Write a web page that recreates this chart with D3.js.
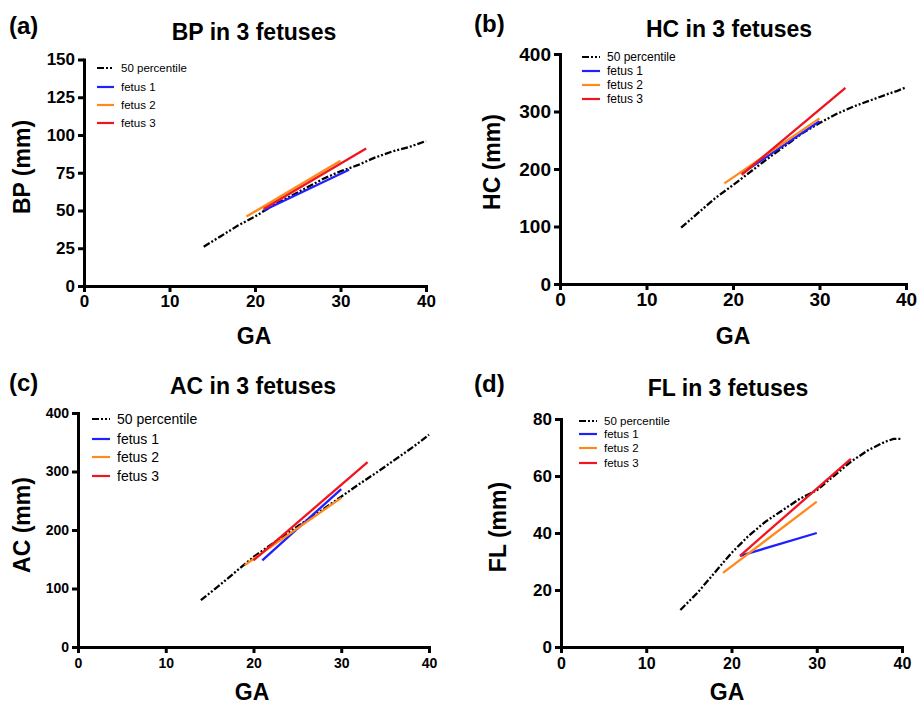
<!DOCTYPE html>
<html>
<head>
<meta charset="utf-8">
<script src="https://cdn.jsdelivr.net/npm/d3@7"></script>
<style>
  body { margin: 0; background: #fff; }
  svg { display: block; font-family: "Liberation Sans", Arial, sans-serif; }
  .axis path, .axis line { stroke: #000; stroke-width: 3; }
  .axis text { font-weight: bold; fill: #000; }
</style>
</head>
<body>
<svg width="919" height="704"></svg>
<script>
// gestational age (weeks) of the 50 percentile curves
const gaPercentile = [14, 16, 18, 20, 22, 24, 26, 28, 30, 32, 34, 36, 38, 39, 40];

// 50 percentile values (mm)
const bp50 = [26, 33, 40, 46, 53, 59, 65, 71, 76, 80, 85, 89, 92, 94, 96];
const hc50 = [98, 124, 150, 172, 195, 218, 240, 262, 280, 296, 309, 320, 331, 336, 342];
const ac50 = [80, 104, 129, 154, 175, 196, 216, 236, 257, 278, 298, 319, 340, 351, 363];
const fl50 = [13, 19, 26, 33, 39, 44, 48, 52, 55, 60, 65, 69, 72, 73, 73];

// fetus measurements: [GA, value] pairs
const bpFetus1 = [[21, 50], [31, 77]];
const bpFetus2 = [[19, 46], [30, 83]];
const bpFetus3 = [[21, 51], [33, 91]];

const hcFetus1 = [[21, 192], [30, 283]];
const hcFetus2 = [[19, 175], [30, 288]];
const hcFetus3 = [[21, 190], [33, 341]];

const acFetus1 = [[21, 148], [30, 270]];
const acFetus2 = [[19, 140], [30, 255]];
const acFetus3 = [[20, 148], [33, 316]];

const flFetus1 = [[21, 32], [30, 40]];
const flFetus2 = [[19, 26], [30, 51]];
const flFetus3 = [[21, 32], [34, 66]];

const seriesNames = ["50 percentile", "fetus 1", "fetus 2", "fetus 3"];
const seriesColors = ["#000000", "#1f1fff", "#ff8a1c", "#f0141e"];

const xTicks = [0, 10, 20, 30, 40];
const bpTicks = [0, 25, 50, 75, 100, 125, 150];
const hcTicks = [0, 100, 200, 300, 400];
const acTicks = [0, 100, 200, 300, 400];
const flTicks = [0, 20, 40, 60, 80];

const percentileDash = "7,2,2,2,2,2";

// layout for each panel
const panels = [
  { tag: "(a)", title: "BP in 3 fetuses", yLabel: "BP (mm)", p50: bp50,
    fetuses: [bpFetus1, bpFetus2, bpFetus3], yTicks: bpTicks,
    x0: 84, x1: 426, yTop: 59.5, yBot: 286,
    tagX: 9, tagY: 34, titleX: 254, titleY: 40,
    yLabX: 30, yLabY: 167, gaX: 254, gaY: 344,
    tickFont: 17, xTickFont: 17, tickPad: 3,
    legX: 97, legTextX: 121, legRows: [68, 87, 105, 123], legFont: 11.5 },
  { tag: "(b)", title: "HC in 3 fetuses", yLabel: "HC  (mm)", p50: hc50,
    fetuses: [hcFetus1, hcFetus2, hcFetus3], yTicks: hcTicks,
    x0: 560, x1: 906, yTop: 54, yBot: 284,
    tagX: 474, tagY: 32, titleX: 729, titleY: 37,
    yLabX: 500, yLabY: 162, gaX: 733, gaY: 344,
    tickFont: 19, xTickFont: 19, tickPad: 3,
    legX: 582, legTextX: 607, legRows: [57, 71, 85, 99], legFont: 12 },
  { tag: "(c)", title: "AC in 3 fetuses", yLabel: "AC (mm)", p50: ac50,
    fetuses: [acFetus1, acFetus2, acFetus3], yTicks: acTicks,
    x0: 78, x1: 429, yTop: 413, yBot: 647,
    tagX: 9, tagY: 391, titleX: 253, titleY: 394,
    yLabX: 30, yLabY: 525, gaX: 252, gaY: 700,
    tickFont: 14, xTickFont: 14, tickPad: 5,
    legX: 92, legTextX: 117, legRows: [419, 439, 457, 476], legFont: 14 },
  { tag: "(d)", title: "FL in 3 fetuses", yLabel: "FL (mm)", p50: fl50,
    fetuses: [flFetus1, flFetus2, flFetus3], yTicks: flTicks,
    x0: 561, x1: 902, yTop: 419, yBot: 647,
    tagX: 474, tagY: 392, titleX: 728, titleY: 396,
    yLabX: 506, yLabY: 527, gaX: 727, gaY: 700,
    tickFont: 17, xTickFont: 16, tickPad: 5,
    legX: 579, legTextX: 604, legRows: [421, 434, 448, 463], legFont: 11.5 }
];

const svg = d3.select("svg");
svg.append("rect").attr("width", 919).attr("height", 704).attr("fill", "#fff");

let drawPanel = (p) => {
  const g = svg.append("g");
  const yMax = p.yTicks[p.yTicks.length - 1];
  const x = d3.scaleLinear().domain([0, 40]).range([p.x0, p.x1]);
  const y = d3.scaleLinear().domain([0, yMax]).range([p.yBot, p.yTop]);

  // axes
  const xa = g.append("g").attr("class", "axis")
    .attr("transform", `translate(0,${p.yBot})`)
    .call(d3.axisBottom(x).tickValues(xTicks).tickSize(6).tickSizeOuter(0).tickPadding(p.tickPad));
  xa.selectAll("text").style("font-size", p.xTickFont + "px");

  const ya = g.append("g").attr("class", "axis")
    .attr("transform", `translate(${p.x0},0)`)
    .call(d3.axisLeft(y).tickValues(p.yTicks).tickSize(6).tickSizeOuter(0).tickPadding(3));
  ya.selectAll("text").style("font-size", p.tickFont + "px");
  g.selectAll(".axis path").attr("stroke-linecap", "square");

  // lines
  const line = d3.line().x((d) => x(d[0])).y((d) => y(d[1]));
  const pctData = gaPercentile.map((ga, i) => [ga, p.p50[i]]);
  g.append("path").datum(pctData)
    .attr("d", line)
    .attr("fill", "none")
    .attr("stroke", seriesColors[0])
    .attr("stroke-width", 2.3)
    .attr("stroke-dasharray", percentileDash);

  p.fetuses.forEach((f, i) => {
    g.append("path").datum(f)
      .attr("d", line)
      .attr("fill", "none")
      .attr("stroke", seriesColors[i + 1])
      .attr("stroke-width", 2.3);
  });

  // legend
  seriesNames.forEach((name, i) => {
    const ry = p.legRows[i];
    g.append("line")
      .attr("x1", p.legX).attr("x2", p.legTextX - 7)
      .attr("y1", ry).attr("y2", ry)
      .attr("stroke", seriesColors[i])
      .attr("stroke-width", 2.2)
      .attr("stroke-dasharray", i === 0 ? percentileDash : null);
    g.append("text")
      .attr("x", p.legTextX).attr("y", ry)
      .attr("dy", "0.35em")
      .style("font-size", p.legFont + "px")
      .text(name);
  });

  // titles and labels
  g.append("text").attr("x", p.tagX).attr("y", p.tagY)
    .style("font-size", "24px").style("font-weight", "bold").text(p.tag);
  g.append("text").attr("x", p.titleX).attr("y", p.titleY)
    .attr("text-anchor", "middle")
    .style("font-size", "23px").style("font-weight", "bold").text(p.title);
  g.append("text")
    .attr("transform", `translate(${p.yLabX},${p.yLabY}) rotate(-90)`)
    .attr("text-anchor", "middle")
    .style("font-size", "23px").style("font-weight", "bold").text(p.yLabel);
  g.append("text").attr("x", p.gaX).attr("y", p.gaY)
    .attr("text-anchor", "middle")
    .style("font-size", "23px").style("font-weight", "bold").text("GA");
};

panels.forEach(drawPanel);
</script>
</body>
</html>
